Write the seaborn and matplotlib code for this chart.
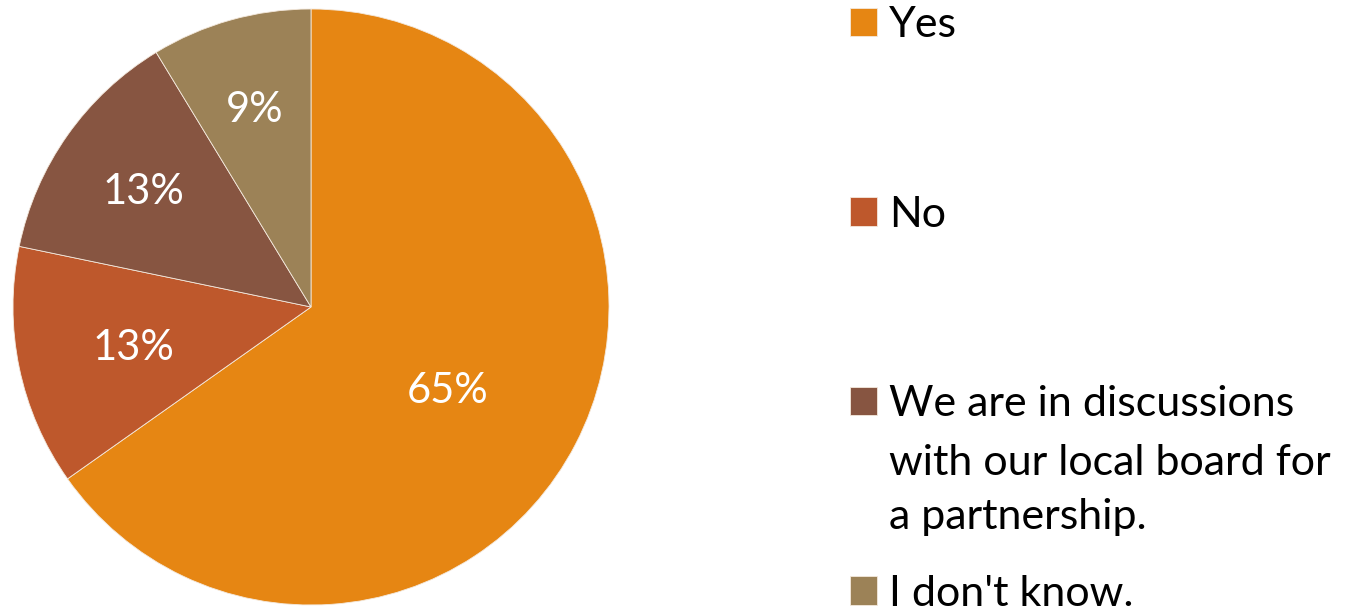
import matplotlib
matplotlib.use("Agg")
import matplotlib.pyplot as plt
import seaborn as sns
import numpy as np

sns.set_theme(style="white")
plt.rcParams['font.family'] = ['Lato', 'DejaVu Sans']
plt.rcParams['text.color'] = 'black'

# survey answers (counts out of 23 respondents)
labels = ["Yes", "No", "We are in discussions", "I don't know."]
label_more = "with our local board for\na partnership."
counts = [15, 3, 3, 2]
colors = ["#E68613", "#BE582C", "#875541", "#9C8257"]

fig = plt.figure(figsize=(13.61, 6.07), dpi=100)
ax = fig.add_axes([(311 - 298) / 1361, (607 - 307 - 298) / 607, 596 / 1361, 596 / 607])

wedges, texts, autotexts = ax.pie(
    counts, colors=colors, startangle=90, counterclock=False,
    autopct=lambda p: f"{p:.0f}%", pctdistance=0.6,
    wedgeprops=dict(edgecolor="#F4E9DD", linewidth=0.6),
    textprops=dict(color="white", fontsize=30))

# move the labels to where the original puts them (radius, extra turn in degrees)
label_r = [0.53, 0.61, 0.69, 0.70]
label_turn = [-3, 0, 0, 0]
for t, r, turn in zip(autotexts, label_r, label_turn):
    x, y = t.get_position()
    a = np.arctan2(y, x) + np.deg2rad(turn)
    t.set_position((r * np.cos(a), r * np.sin(a) - 0.013))

ax.set_xlim(-1, 1)
ax.set_ylim(-1, 1)
ax.set_aspect("equal")

leg = fig.legend(wedges, labels, loc="upper left", bbox_to_anchor=(850 / 1361, 1 - 6 / 607),
                 frameon=False, fontsize=31, handlelength=0.63, handleheight=0.63,
                 handletextpad=0.28, labelspacing=3.52, borderaxespad=0, borderpad=0)
for t in leg.get_texts():
    t.set_color("black")

fig.canvas.draw()
# continuation lines of the third legend entry
t3 = leg.get_texts()[2]
bb = t3.get_window_extent()
fig.text(bb.x0 / 1361, (bb.y0 - 21) / 607, label_more, fontsize=31, va="top", ha="left",
         linespacing=1.52, color="black")

fig.savefig("out.png", dpi=100)
